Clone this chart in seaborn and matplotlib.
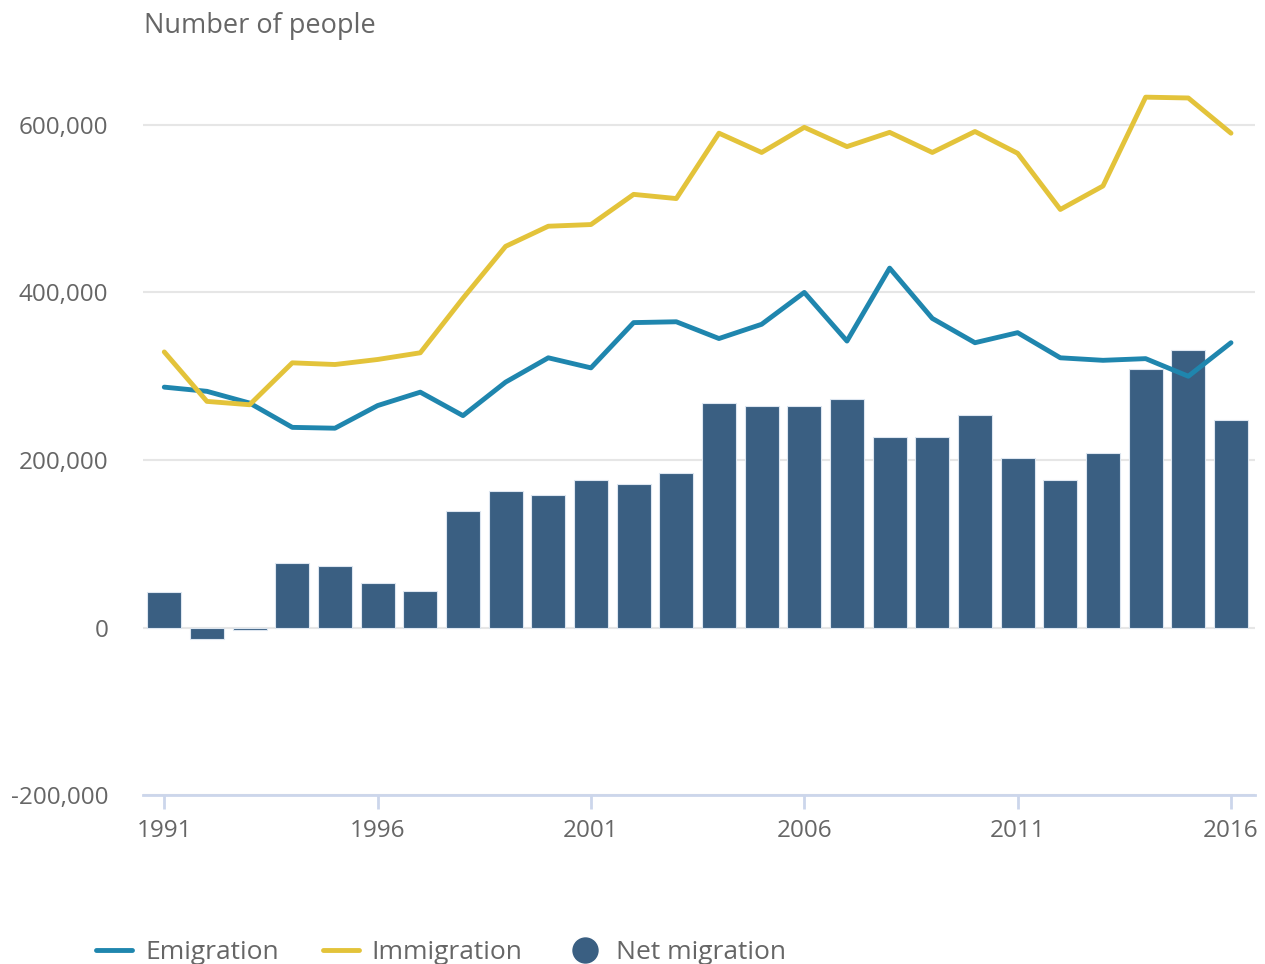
import numpy as np
import pandas as pd
import matplotlib.pyplot as plt
import seaborn as sns

# Years and values
years = list(range(1991, 2017))
emigration = [287000, 282000, 268000, 239000, 238000, 265000, 281000, 253000, 293000, 322000,
              310000, 364000, 365000, 345000, 362000, 400000, 342000, 429000, 369000, 340000,
              352000, 322000, 319000, 321000, 300000, 340000]
immigration = [329000, 270000, 266000, 316000, 314000, 320000, 328000, 393000, 455000, 479000,
               481000, 517000, 512000, 590000, 567000, 597000, 574000, 591000, 567000, 592000,
               566000, 499000, 527000, 633000, 632000, 590000]
net_migration = [42000, -13000, -3000, 77000, 74000, 53000, 44000, 139000, 163000, 158000,
                 176000, 171000, 184000, 268000, 265000, 265000, 273000, 227000, 227000, 254000,
                 203000, 176000, 208000, 309000, 331000, 248000]

df = pd.DataFrame({'Year': years, 'Emigration': emigration,
                   'Immigration': immigration, 'Net migration': net_migration})

sns.set_style('white')
plt.rcParams['font.family'] = ['Open Sans', 'DejaVu Sans']

c_bar = '#3a5f82'
c_emi = '#1f86ae'
c_imm = '#e3c33a'
c_axis = '#ccd6eb'
c_text = '#666666'

fig = plt.figure(figsize=(12.65, 9.64), dpi=100)
ax = fig.add_axes([0.113, 0.175, 0.879, 0.739])

sns.barplot(data=df, x='Year', y='Net migration', native_scale=True, color=c_bar,
            width=0.8, edgecolor='#dde6f0', linewidth=0.8, saturation=1, ax=ax, zorder=2)
sns.lineplot(data=df, x='Year', y='Emigration', color=c_emi, linewidth=3.5, ax=ax, zorder=3)
sns.lineplot(data=df, x='Year', y='Immigration', color=c_imm, linewidth=3.5, ax=ax, zorder=3)

ax.set_xlim(1990.5, 2016.56)
ax.set_ylim(-200000, 650000)
ax.set_yticks([-200000, 0, 200000, 400000, 600000])
ax.set_yticklabels([f'{v:,}' for v in [-200000, 0, 200000, 400000, 600000]])
ax.set_xticks([1991, 1996, 2001, 2006, 2011, 2016])
ax.grid(axis='y', color='#e6e6e6', linewidth=1.5, zorder=0)
ax.set_axisbelow(True)

for s in ['top', 'right', 'left']:
    ax.spines[s].set_visible(False)
ax.spines['bottom'].set_color(c_axis)
ax.spines['bottom'].set_linewidth(2)
ax.tick_params(axis='x', bottom=True, colors=c_axis, length=10, width=2, direction='out',
               labelcolor=c_text, labelsize=17.5, pad=7)
ax.tick_params(axis='y', left=False, length=0, labelcolor=c_text, labelsize=17.5, pad=25)
ax.set_xlabel('')
ax.set_ylabel('')

fig.text(0.114, 0.973, 'Number of people', fontsize=19.5, color=c_text, va='center')

handles = [
    plt.Line2D([0], [0], color=c_emi, linewidth=3.5, label='Emigration'),
    plt.Line2D([0], [0], color=c_imm, linewidth=3.5, label='Immigration'),
    plt.Line2D([0], [0], marker='o', color='w', markerfacecolor=c_bar, markersize=20, label='Net migration'),
]
leg = fig.legend(handles=handles, loc='center left', bbox_to_anchor=(0.057, 0.012), ncol=3,
                 frameon=False, fontsize=19, handlelength=1.36, columnspacing=1.67, handletextpad=0.5)
for t in leg.get_texts():
    t.set_color(c_text)

plt.savefig('out.png', dpi=100)
